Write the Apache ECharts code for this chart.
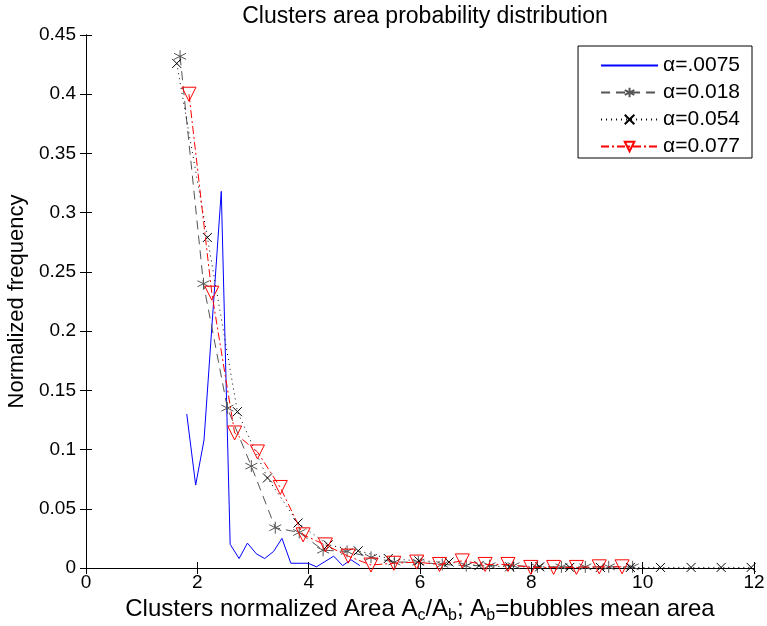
<!DOCTYPE html>
<html>
<head>
<meta charset="utf-8">
<script src="https://cdn.jsdelivr.net/npm/echarts@6/dist/echarts.min.js"></script>
<style>
  html, body { margin: 0; padding: 0; background: #fff; }
  #chart { width: 767px; height: 626px; }
</style>
</head>
<body>
<div id="chart"></div>
<script>
'use strict';

// alpha = .0075
const blueX = [1.81, 1.97, 2.12, 2.43, 2.59, 2.75, 2.90, 3.06, 3.21, 3.37, 3.52, 3.68, 3.99, 4.14, 4.45, 4.61, 4.76, 4.92];
const blueY = [0.130, 0.070, 0.108, 0.318, 0.020, 0.008, 0.021, 0.012, 0.008, 0.014, 0.025, 0.004, 0.004, 0.001, 0.010, 0.002, 0.007, 0.002];

// alpha = 0.018
const starX = [1.69, 2.11, 2.54, 2.97, 3.40, 3.83, 4.26, 4.69, 5.12, 5.54, 5.97, 6.40, 6.83, 7.25, 7.68, 8.11, 8.54, 8.97, 9.39, 9.82];
const starY = [0.432, 0.240, 0.135, 0.086, 0.034, 0.030, 0.015, 0.014, 0.009, 0.005, 0.005, 0.003, 0.002, 0.002, 0.002, 0.001, 0.001, 0.001, 0.001, 0.001];

// alpha = 0.054
const crossX = [1.63, 2.18, 2.72, 3.26, 3.81, 4.35, 4.89, 5.43, 5.98, 6.52, 7.06, 7.61, 8.15, 8.69, 9.24, 9.78, 10.32, 10.87, 11.41, 11.95];
const crossY = [0.426, 0.279, 0.132, 0.076, 0.038, 0.0195, 0.0145, 0.008, 0.006, 0.005, 0.002, 0.001, 0.001, 0.0005, 0.0005, 0.0005, 0.0005, 0.0005, 0.0005, 0.0005];

// alpha = 0.077
const triX = [1.85, 2.26, 2.67, 3.08, 3.49, 3.90, 4.30, 4.71, 5.12, 5.53, 5.94, 6.35, 6.76, 7.17, 7.58, 7.99, 8.40, 8.81, 9.22, 9.63];
const triY = [0.400, 0.232, 0.114, 0.098, 0.068, 0.028, 0.0195, 0.010, 0.0025, 0.004, 0.005, 0.003, 0.006, 0.003, 0.003, 0.0005, 0.0005, 0.0005, 0.001, 0.001];

const seriesNames = ['α=.0075', 'α=0.018', 'α=0.054', 'α=0.077'];

const FONT = 'Liberation Sans';

function pairs(xs, ys) {
  return xs.map((x, i) => [x, ys[i]]);
}

const starPath = 'path://M0,-1L0,1M-0.87,-0.5L0.87,0.5M-0.87,0.5L0.87,-0.5';
const crossPath = 'path://M-1,-1L1,1M-1,1L1,-1';
const triPath = 'path://M-1,-0.85L1,-0.85L0,0.9Z';

const boxAxis = {
  axisLine: { show: true, lineStyle: { color: '#000', width: 1 } },
  axisTick: { show: true, inside: true, length: 6, lineStyle: { color: '#000' } },
  axisLabel: { show: false },
  splitLine: { show: false }
};

const option = {
  animation: false,
  backgroundColor: '#fff',
  title: {
    text: 'Clusters area probability distribution',
    left: 420,
    textAlign: 'center',
    top: 0,
    textStyle: { fontFamily: FONT, fontSize: 23, fontWeight: 'normal', color: '#000' }
  },
  legend: {
    orient: 'vertical',
    right: 15,
    top: 46,
    data: seriesNames,
    backgroundColor: '#fff',
    borderColor: '#000',
    borderWidth: 1,
    padding: [9, 12, 1, 22],
    itemGap: 6,
    itemWidth: 57,
    itemHeight: 12,
    textStyle: { fontFamily: FONT, fontSize: 21, color: '#000' }
  },
  grid: { left: 86, right: 13, top: 35, bottom: 58, outerBoundsMode: 'none' },
  xAxis: [
    {
      type: 'value',
      min: 0, max: 12, interval: 2,
      position: 'bottom',
      axisLine: { show: true, onZero: false, lineStyle: { color: '#000', width: 1 } },
      axisTick: { show: true, inside: true, length: 6, lineStyle: { color: '#000' } },
      splitLine: { show: false },
      axisLabel: { fontFamily: FONT, fontSize: 19, color: '#000', margin: 5 },
      name: '{t|Clusters normalized Area A}{s|c}{t|/A}{s|b}{t|; A}{s|b}{t|=bubbles mean area}',
      nameLocation: 'middle',
      nameGap: 25,
      nameTextStyle: {
        rich: {
          t: { fontFamily: FONT, fontSize: 24, color: '#000' },
          s: { fontFamily: FONT, fontSize: 16, color: '#000', verticalAlign: 'bottom', padding: [13, 0, 0, 0] }
        }
      }
    },
    Object.assign({ type: 'value', min: 0, max: 12, interval: 2, position: 'top' }, boxAxis)
  ],
  yAxis: [
    {
      type: 'value',
      min: 0, max: 0.45, interval: 0.05,
      position: 'left',
      axisLine: { show: true, onZero: false, lineStyle: { color: '#000', width: 1 } },
      axisTick: { show: true, inside: true, length: 6, lineStyle: { color: '#000' } },
      splitLine: { show: false },
      axisLabel: { fontFamily: FONT, fontSize: 19, color: '#000', margin: 10 },
      name: 'Normalized frequency',
      nameLocation: 'middle',
      nameGap: 57,
      nameTextStyle: { fontFamily: FONT, fontSize: 22, color: '#000' }
    },
    Object.assign({ type: 'value', min: 0, max: 0.45, interval: 0.05, position: 'right' }, boxAxis)
  ],
  series: [
    {
      name: seriesNames[0],
      type: 'line',
      data: pairs(blueX, blueY),
      symbol: 'circle',
      showSymbol: false,
      lineStyle: { color: '#0000ff', width: 1 },
      itemStyle: { color: 'transparent', borderColor: 'transparent' },
      z: 2
    },
    {
      name: seriesNames[1],
      type: 'line',
      data: pairs(starX, starY),
      symbol: starPath,
      symbolSize: 12,
      lineStyle: { color: '#555', width: 1, type: [9, 6] },
      itemStyle: { color: 'none', borderColor: '#555', borderWidth: 1 },
      z: 3
    },
    {
      name: seriesNames[2],
      type: 'line',
      data: pairs(crossX, crossY),
      symbol: crossPath,
      symbolSize: 9,
      lineStyle: { color: '#000', width: 1, type: [1, 4] },
      itemStyle: { color: 'none', borderColor: '#000', borderWidth: 1 },
      z: 4
    },
    {
      name: seriesNames[3],
      type: 'line',
      data: pairs(triX, triY),
      symbol: triPath,
      symbolSize: 14,
      lineStyle: { color: '#ff0000', width: 1, type: [8, 3, 2, 3] },
      itemStyle: { color: 'none', borderColor: '#ff0000', borderWidth: 1 },
      z: 5
    }
  ]
};

const chart = echarts.init(document.getElementById('chart'));
chart.setOption(option);
</script>
</body>
</html>
